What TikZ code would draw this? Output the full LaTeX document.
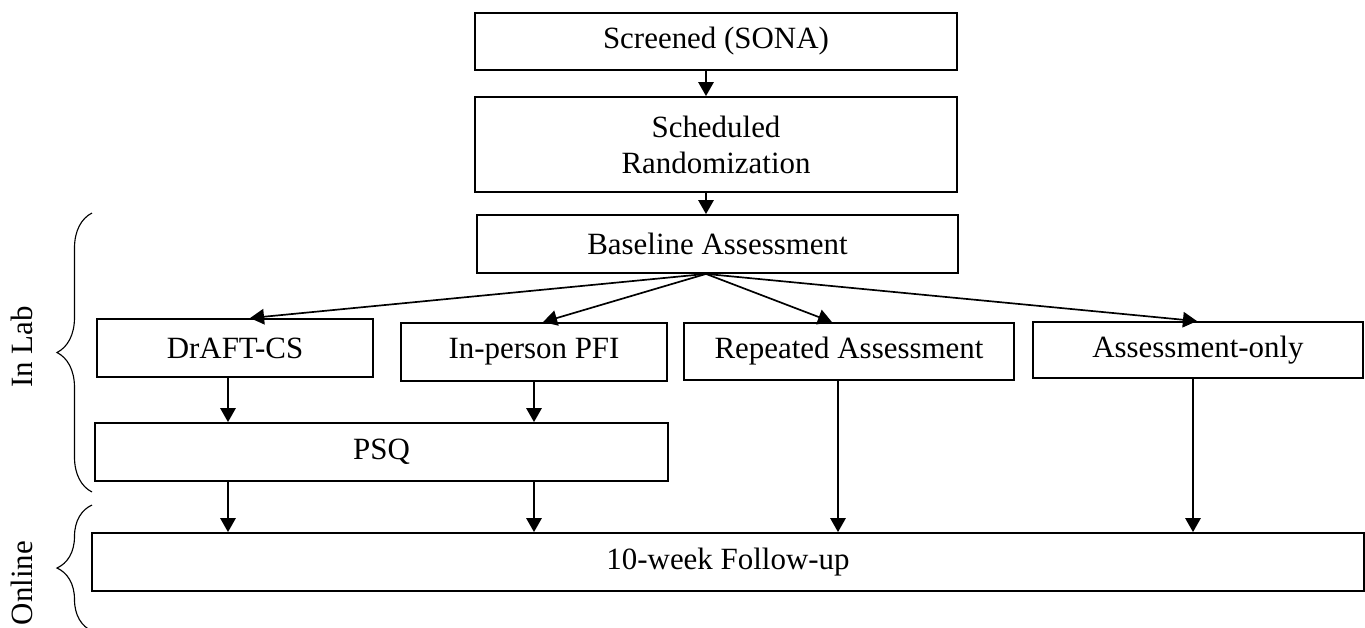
\documentclass[tikz,border=0pt]{standalone}
\usepackage{fontspec}
\setmainfont{Liberation Serif}
\usetikzlibrary{arrows.meta,positioning,decorations.pathreplacing}

\begin{document}
\begin{tikzpicture}[
    x=0.025cm, y=-0.025cm,
    box/.style={
        rectangle,
        draw=black,
        line width=1.3pt,
        inner sep=0pt,
        minimum height=1.45cm,
        align=center
    },
    arrow/.style={
        -{Triangle[length=10pt,width=11pt]},
        line width=1.2pt,
        black
    },
    brace/.style={
        decorate,
        decoration={brace,amplitude=0.875cm},
        line width=0.8pt
    },
    every node/.style={
        font=\fontsize{22}{25.5}\selectfont
    }
]

\useasboundingbox (0,0) rectangle (1365,627);

% Recruitment
\node[box, minimum width=12.05cm, minimum height=1.425cm] (screen) at (716,41.5) {Screened (SONA)};
\node[box, minimum width=12.05cm, minimum height=2.375cm] (sched) at (716,144.5) {Scheduled\\Randomization};
\node[box, minimum width=12.025cm] (base) at (717.5,244) {Baseline Assessment};

% Conditions
\node[box, minimum width=6.9cm] (draft) at (235,348) {DrAFT-CS};
\node[box, minimum width=6.65cm] (inperson) at (534,352) {In-person PFI};
\node[box, minimum width=8.25cm, minimum height=1.425cm] (repeated) at (849,351.5) {Repeated Assessment};
\node[box, minimum width=8.25cm, minimum height=1.4cm] (asonly) at (1198,350) {Assessment-only};

% Post and follow-up
\node[box, minimum width=14.325cm] (psq) at (381.5,452) {PSQ};
\node[box, minimum width=31.8cm] (follow) at (728,562) {10-week Follow-up};

% Phase labels
\node[rotate=90] (inlab) at (22,347) {In Lab};
\node[rotate=90] (online) at (22,583) {Online};

\coordinate (labtop) at (92,213);
\coordinate (labbot) at (92,492);
\coordinate (ontop) at (92,505);
\coordinate (onbot) at (92,631);
\draw[brace] (labbot) -- (labtop);
\draw[brace] (onbot) -- (ontop);

% Arrow columns
\coordinate (c0) at (706,0);
\coordinate (c1) at (228,0);
\coordinate (c2) at (534,0);
\coordinate (c3) at (838,0);
\coordinate (c4) at (1193,0);

% Arrows
\draw[arrow] (screen.south -| c0) -- (sched.north -| c0);
\draw[arrow] (sched.south -| c0) -- (base.north -| c0);
\draw[arrow] (base.south -| c0) -- ([xshift=0.375cm]draft.north);
\draw[arrow] (base.south -| c0) -- ([xshift=0.225cm]inperson.north);
\draw[arrow] (base.south -| c0) -- ([xshift=-0.425cm]repeated.north);
\draw[arrow] (base.south -| c0) -- ([xshift=-0.025cm]asonly.north);
\draw[arrow] (draft.south -| c1) -- (psq.north -| c1);
\draw[arrow] (inperson.south -| c2) -- (psq.north -| c2);
\draw[arrow] (psq.south -| c1) -- (follow.north -| c1);
\draw[arrow] (psq.south -| c2) -- (follow.north -| c2);
\draw[arrow] (repeated.south -| c3) -- (follow.north -| c3);
\draw[arrow] (asonly.south -| c4) -- (follow.north -| c4);

\end{tikzpicture}
\end{document}
